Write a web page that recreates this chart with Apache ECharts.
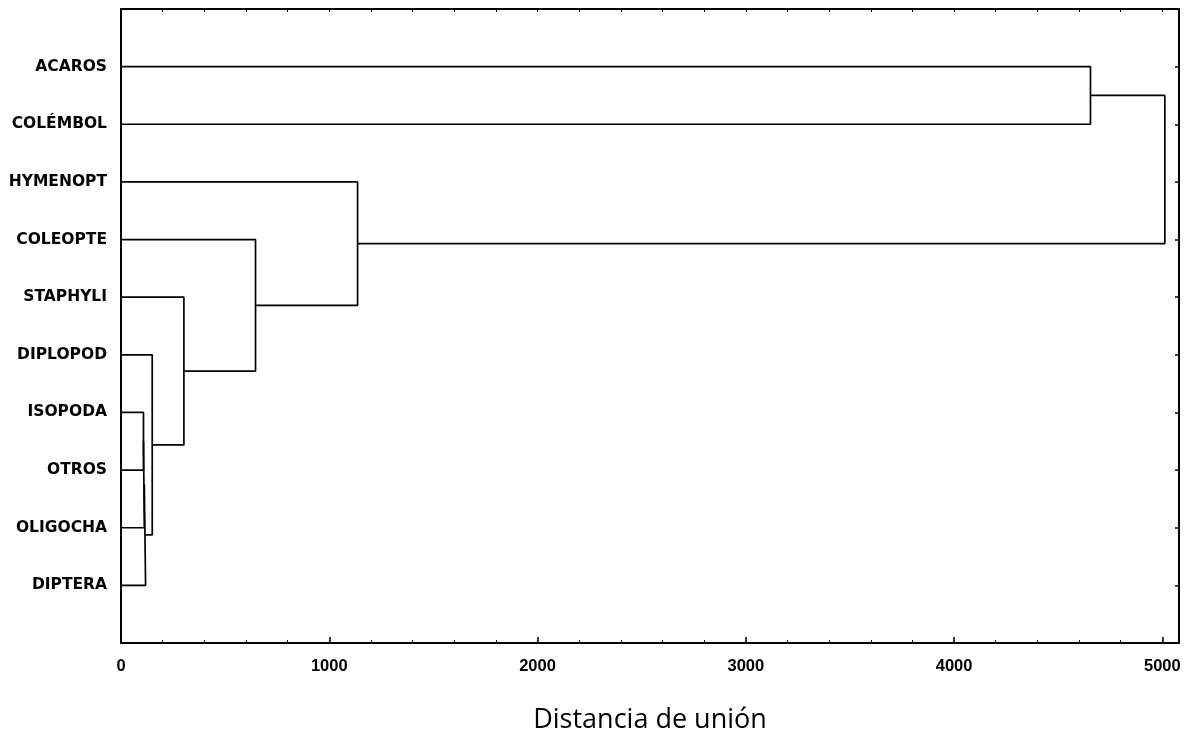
<!DOCTYPE html>
<html>
<head>
<meta charset="utf-8">
<script src="https://cdn.jsdelivr.net/npm/echarts@6/dist/echarts.min.js"></script>
<style>
  html, body { margin: 0; padding: 0; background: #ffffff; }
  #chart { width: 1185px; height: 740px; }
</style>
</head>
<body>
<div id="chart"></div>
<script>
// Leaves of the dendrogram, top to bottom
const leafNames = ['ACAROS', 'COLÉMBOL', 'HYMENOPT', 'COLEOPTE', 'STAPHYLI',
                   'DIPLOPOD', 'ISOPODA', 'OTROS', 'OLIGOCHA', 'DIPTERA'];

// Agglomeration steps: node ids 0..9 are leaves, each step creates node 10, 11, ...
const mergeLeft   = [6, 10, 11, 5, 4, 3, 2, 0, 17];
const mergeRight  = [7, 8, 9, 12, 13, 14, 15, 1, 16];
const mergeHeight = [108, 112, 118, 150, 302, 646, 1136, 4655, 5012];

// X axis tick labels
const xTickLabels = ['0', '1000', '2000', '3000', '4000', '5000'];

const X_MAX = 5080;
const LABEL_FONT = 'DejaVu Sans';
const TICK_FONT = 'Liberation Sans';

// Node position (row) and height (join distance)
const nodePos = leafNames.map((_, i) => i + 1);
const nodeHeight = leafNames.map(() => 0);
const series = [];
mergeHeight.forEach((h, k) => {
  const a = mergeLeft[k], b = mergeRight[k];
  const ya = nodePos[a], yb = nodePos[b];
  series.push({
    type: 'line',
    data: [[nodeHeight[a], ya], [h, ya], [h, yb], [nodeHeight[b], yb]],
    symbol: 'none',
    silent: true,
    animation: false,
    lineStyle: { color: '#000', width: 1.7 },
    z: 3
  });
  nodePos.push((ya + yb) / 2);
  nodeHeight.push(h);
});

const chart = echarts.init(document.getElementById('chart'), null, { renderer: 'canvas' });

const frameLine = { show: true, onZero: false, lineStyle: { color: '#000', width: 2 } };

chart.setOption({
  backgroundColor: '#ffffff',
  animation: false,
  grid: { left: 121, right: 6, top: 9, bottom: 97, containLabel: false },
  xAxis: [
    {
      type: 'value', position: 'bottom', min: 0, max: X_MAX, interval: 1000,
      axisLine: frameLine,
      axisTick: { show: true, inside: true, length: 6, lineStyle: { color: '#000', width: 1.5 } },
      splitLine: { show: false },
      axisLabel: {
        color: '#000', fontFamily: TICK_FONT, fontWeight: 'bold', fontSize: 16.5, margin: 15,
        formatter: v => (v % 1000 === 0 && v / 1000 < xTickLabels.length) ? xTickLabels[v / 1000] : ''
      },
      name: 'Distancia de unión',
      nameLocation: 'middle',
      nameGap: 64,
      nameTextStyle: { color: '#000', fontFamily: 'Open Sans', fontSize: 27 }
    },
    {
      type: 'value', position: 'bottom', min: 0, max: X_MAX, interval: 200,
      axisLine: { show: false, onZero: false },
      axisTick: { show: true, inside: true, length: 3, lineStyle: { color: '#000', width: 1 } },
      splitLine: { show: false }, axisLabel: { show: false }
    },
    {
      type: 'value', position: 'top', min: 0, max: X_MAX, interval: 200,
      axisLine: frameLine,
      axisTick: { show: true, inside: true, length: 3, lineStyle: { color: '#000', width: 1 } },
      splitLine: { show: false }, axisLabel: { show: false }
    }
  ],
  yAxis: [
    {
      type: 'value', position: 'left', inverse: true, min: 0, max: 11, interval: 1,
      axisLine: frameLine,
      axisTick: { show: false },
      splitLine: { show: false },
      axisLabel: {
        color: '#000', fontFamily: LABEL_FONT, fontWeight: 'bold', fontSize: 15.5, margin: 14,
        formatter: v => (v >= 1 && v <= leafNames.length) ? leafNames[v - 1] : ''
      }
    },
    {
      type: 'value', position: 'right', inverse: true, min: 0, max: 11, interval: 1,
      axisLine: frameLine,
      axisTick: { show: true, inside: true, length: 4, lineStyle: { color: '#000', width: 1.5 } },
      splitLine: { show: false }, axisLabel: { show: false }
    }
  ],
  series: series
});
</script>
</body>
</html>
